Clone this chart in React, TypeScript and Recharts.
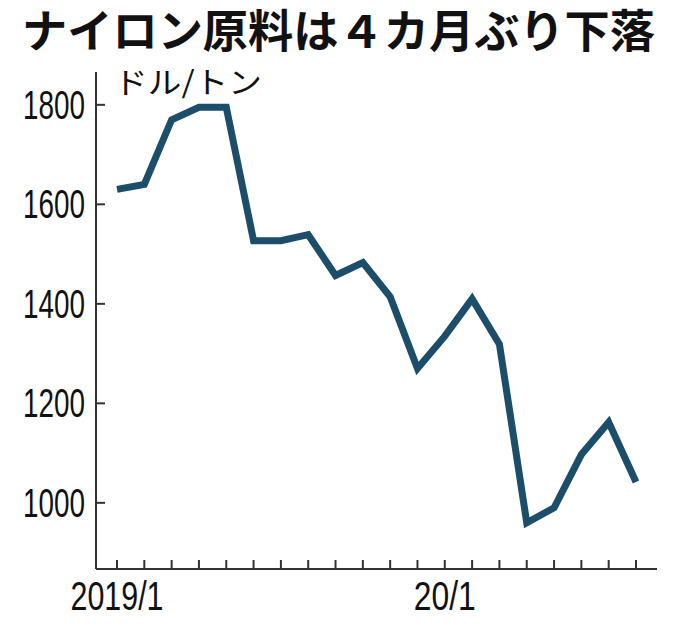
import { Line, LineChart, XAxis, YAxis } from "recharts";

const months = [
  "2019/1", "2019/2", "2019/3", "2019/4", "2019/5", "2019/6", "2019/7",
  "2019/8", "2019/9", "2019/10", "2019/11", "2019/12",
  "2020/1", "2020/2", "2020/3", "2020/4", "2020/5", "2020/6", "2020/7", "2020/8",
];
const prices = [
  1630, 1640, 1770, 1795, 1795, 1527, 1527, 1539, 1457, 1483, 1414, 1270,
  1335, 1410, 1319, 960, 990, 1097, 1162, 1042,
];
const tickLabels: Record<string, string> = { "2019/1": "2019/1", "2020/1": "20/1" };
const yTicks = [1000, 1200, 1400, 1600, 1800];

const data = months.map((m, i) => ({ month: m, price: prices[i] }));

const AXIS = "#333";
const LINE = "#1c4e69";
const NUM_FONT = "'Liberation Sans Narrow', 'Liberation Sans', Arial, sans-serif";

function YTick(props: any) {
  const { x, y, payload } = props;
  const label = String(payload.value);
  return (
    <g>
      <line x1={x} x2={x + 9} y1={y} y2={y} stroke={AXIS} strokeWidth={2} />
      <text
        x={x - 11}
        y={y + 14}
        textAnchor="end"
        fontSize={40}
        fontFamily={NUM_FONT}
        fill="#111"
        textLength={label.length * 15.5}
        lengthAdjust="spacingAndGlyphs"
      >
        {label}
      </text>
    </g>
  );
}

function XTick(props: any) {
  const { x, y, payload } = props;
  const label = tickLabels[payload.value];
  return (
    <g>
      <line x1={x} x2={x} y1={y} y2={y - 9} stroke={AXIS} strokeWidth={2} />
      {label && (
        <text
          x={x}
          y={y + 41}
          textAnchor="middle"
          fontSize={40}
          fontFamily={NUM_FONT}
          fill="#111"
          textLength={label.length * 15.5}
          lengthAdjust="spacingAndGlyphs"
        >
          {label}
        </text>
      )}
    </g>
  );
}

export default function App() {
  return (
    <div style={{ position: "absolute", left: 0, top: 0, width: 680, height: 633, background: "#fff" }}>
      <LineChart
        width={680}
        height={633}
        data={data}
        margin={{ top: 72, right: 23, bottom: 63, left: 95 }}
      >
        <XAxis
          dataKey="month"
          height={1}
          interval={0}
          padding={{ left: 21, right: 21 }}
          tickLine={false}
          tickSize={0}
          tickMargin={0}
          axisLine={{ stroke: AXIS, strokeWidth: 2 }}
          tick={<XTick />}
        />
        <YAxis
          width={1}
          domain={[867, 1866]}
          ticks={yTicks}
          tickLine={false}
          tickSize={0}
          tickMargin={0}
          axisLine={{ stroke: AXIS, strokeWidth: 2 }}
          tick={<YTick />}
        />
        <Line
          type="linear"
          dataKey="price"
          stroke={LINE}
          strokeWidth={7}
          dot={false}
          isAnimationActive={false}
        />
      </LineChart>
      <svg
        width={680}
        height={110}
        style={{ position: "absolute", left: 0, top: 0, pointerEvents: "none" }}
      >
        <text
          x={22}
          y={48}
          fontSize={45}
          fontWeight={700}
          fontFamily="'Noto Sans CJK JP', sans-serif"
          fill="#111"
          textLength={633}
          lengthAdjust="spacingAndGlyphs"
        >
          ナイロン原料は４カ月ぶり下落
        </text>
        <text
          x={114}
          y={93}
          fontSize={30}
          fontFamily="'Noto Sans CJK JP', sans-serif"
          fill="#111"
          textLength={148}
          lengthAdjust="spacingAndGlyphs"
        >
          ドル/トン
        </text>
      </svg>
    </div>
  );
}
